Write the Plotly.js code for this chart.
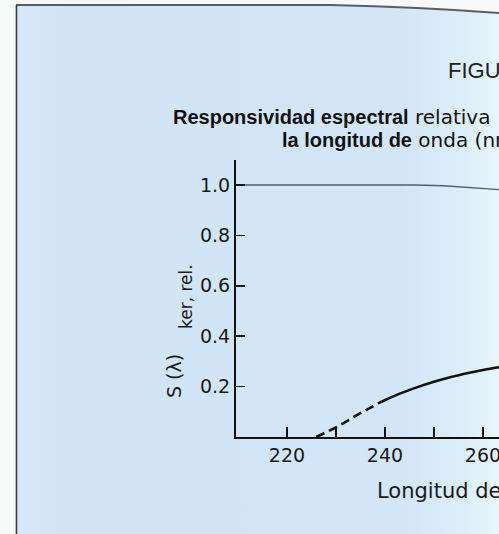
<!DOCTYPE html>
<html>
<head>
<meta charset="utf-8">
<script src="https://cdn.plot.ly/plotly-3.0.1.min.js"></script>
<style>
  html, body { margin: 0; padding: 0; width: 499px; height: 534px; overflow: hidden; background: #f7f8f8; }
  #bg { position: absolute; left: 0; top: 0; }
  #chart { position: absolute; left: 0; top: 0; width: 900px; height: 534px; }
</style>
</head>
<body>
<svg id="bg" width="499" height="534" xmlns="http://www.w3.org/2000/svg">
  <defs>
    <linearGradient id="paper" x1="0" y1="0" x2="1" y2="0">
      <stop offset="0" stop-color="#d6e7f7"/>
      <stop offset="0.1" stop-color="#d1e4f6"/>
      <stop offset="0.8" stop-color="#d3e6f7"/>
      <stop offset="0.93" stop-color="#ddeef9"/>
      <stop offset="1" stop-color="#e7f6fb"/>
    </linearGradient>
  </defs>
  <path d="M16,5 L330,5 Q420,7 499,13 L499,534 L16,534 Z" fill="url(#paper)"/>
  <path d="M16,5 L330,5 Q420,7 499,13" fill="none" stroke="#5a5e62" stroke-width="2"/>
  <line x1="16.5" y1="5" x2="16.5" y2="534" stroke="#3c3c3c" stroke-width="1.6"/>
</svg>
<div id="chart"></div>
<script>
// Wavelength (nm) and relative spectral responsivity
const dashedWavelength = [226, 230.3, 234.9, 239.3];
const dashedResponse   = [0.0, 0.041, 0.094, 0.14];
const solidWavelength  = [239.3, 243.0, 246.5, 250.0, 253.5, 257.0, 260.5, 264.0];
const solidResponse    = [0.14, 0.172, 0.197, 0.219, 0.238, 0.254, 0.268, 0.280];
const refWavelength    = [210.5, 246, 252, 258, 264];
const refResponse      = [1.0, 1.0, 0.997, 0.99, 0.981];

const xTickVals = [220, 230, 240, 250, 260, 270, 280, 290, 300, 310, 320];
const xTickText = ['220', '', '240', '', '260', '', '280', '', '300', '', '320'];
const yTickVals = [0.2, 0.4, 0.6, 0.8, 1.0];
const yTickText = ['0.2', '0.4', '0.6', '0.8', '1.0'];

const lightSpan = s => '<span style="font-family:DejaVu Sans">' + s + '</span>';
const titleFig   = 'FIGURA';
const titleLine1 = '<b>Responsividad espectral</b>' + lightSpan(' relativa');
const titleLine2 = '<b>la longitud de</b>' + lightSpan(' onda (nm)');
const xTitle     = 'Longitud de onda (nm)';
const yTitleMain = 'S (λ)';
const yTitleSub  = 'ker, rel.';

// layout geometry (pixels)
const W = 900, H = 534, ML = 236, MT = 160, MB = 97, MR = 100;
const PW = W - ML - MR, PH = H - MT - MB;
const px = v => (v - ML) / PW;
const py = v => (H - MB - v) / PH;

const traces = [
  { x: refWavelength, y: refResponse, mode: 'lines', type: 'scatter',
    line: { color: '#4f6274', width: 1.3 }, hoverinfo: 'skip', showlegend: false },
  { x: dashedWavelength, y: dashedResponse, mode: 'lines', type: 'scatter',
    line: { color: '#111', width: 2.6, dash: '9px,5px' }, showlegend: false },
  { x: solidWavelength, y: solidResponse, mode: 'lines', type: 'scatter',
    line: { color: '#111', width: 2.6, shape: 'spline' }, showlegend: false }
];

const tickFont = { family: 'DejaVu Sans', size: 19, color: '#1a1a1a' };

const layout = {
  width: W, height: H,
  margin: { l: ML, r: MR, t: MT, b: MB, pad: 0 },
  paper_bgcolor: 'rgba(0,0,0,0)',
  plot_bgcolor: 'rgba(0,0,0,0)',
  showlegend: false,
  xaxis: {
    range: [209.6, 209.6 + PW / 4.9],
    tickmode: 'array', tickvals: xTickVals, ticktext: xTickText,
    ticks: 'inside', ticklen: 10, tickwidth: 1.5, tickcolor: '#111',
    showline: true, linewidth: 2, linecolor: '#111',
    showgrid: false, zeroline: false, tickfont: tickFont, automargin: false
  },
  yaxis: {
    range: [0, PH / 252],
    tickmode: 'array', tickvals: yTickVals, ticktext: yTickText,
    ticks: 'inside', ticklen: 9, tickwidth: 1.5, tickcolor: '#111',
    showline: true, linewidth: 2, linecolor: '#111',
    showgrid: false, zeroline: false, tickfont: tickFont, automargin: false
  },
  annotations: [
    { text: titleFig, xref: 'paper', yref: 'paper', x: px(446), y: py(70),
      xanchor: 'left', yanchor: 'middle', showarrow: false,
      font: { family: 'Liberation Sans', size: 22, color: '#222' } },
    { text: titleLine1, xref: 'paper', yref: 'paper', x: px(171), y: py(117),
      xanchor: 'left', yanchor: 'middle', showarrow: false,
      font: { family: 'Liberation Sans', size: 20, color: '#111' } },
    { text: titleLine2, xref: 'paper', yref: 'paper', x: px(280), y: py(140),
      xanchor: 'left', yanchor: 'middle', showarrow: false,
      font: { family: 'Liberation Sans', size: 20, color: '#111' } },
    { text: xTitle, xref: 'paper', yref: 'paper', x: px(375), y: py(491),
      xanchor: 'left', yanchor: 'middle', showarrow: false,
      font: { family: 'DejaVu Sans', size: 21, color: '#1a1a1a' } },
    { text: yTitleMain, xref: 'paper', yref: 'paper', x: px(174), y: py(376),
      xanchor: 'center', yanchor: 'middle', showarrow: false, textangle: -90,
      font: { family: 'DejaVu Sans', size: 19, color: '#1a1a1a' } },
    { text: yTitleSub, xref: 'paper', yref: 'paper', x: px(186), y: py(297),
      xanchor: 'center', yanchor: 'middle', showarrow: false, textangle: -90,
      font: { family: 'DejaVu Sans', size: 17, color: '#1a1a1a' } }
  ]
};

Plotly.newPlot('chart', traces, layout, { staticPlot: true, displayModeBar: false });
</script>
</body>
</html>
